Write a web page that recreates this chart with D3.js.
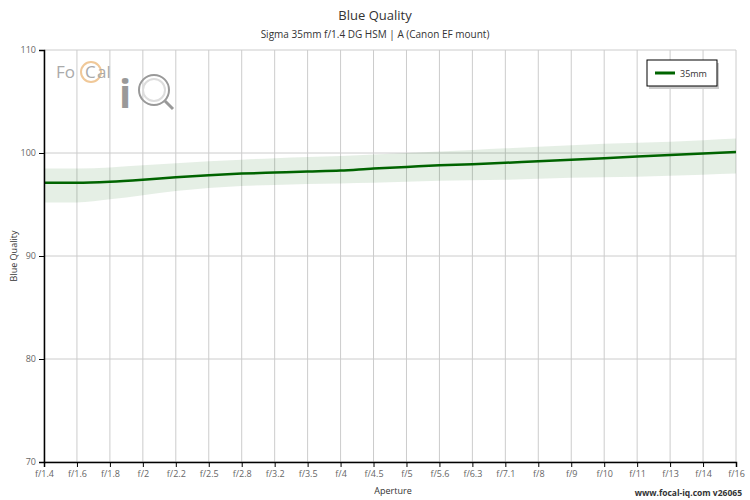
<!DOCTYPE html>
<html><head><meta charset="utf-8">
<script src="https://cdn.jsdelivr.net/npm/d3@7"></script>
<style>body{margin:0;background:#fff}text{font-family:"Open Sans",sans-serif}</style>
</head><body><svg id="chart" width="750" height="500"></svg>
<script>
const apertures = ['f/1.4','f/1.6','f/1.8','f/2','f/2.2','f/2.5','f/2.8','f/3.2','f/3.5','f/4','f/4.5','f/5','f/5.6','f/6.3','f/7.1','f/8','f/9','f/10','f/11','f/13','f/14','f/16']
const quality = [97.1,97.1,97.2,97.4,97.65,97.85,98.0,98.1,98.2,98.3,98.5,98.65,98.8,98.9,99.05,99.2,99.35,99.5,99.65,99.8,99.95,100.1]
const upper = [98.5,98.5,98.6,98.8,99.0,99.2,99.35,99.5,99.6,99.7,99.85,100.0,100.15,100.3,100.45,100.6,100.75,100.9,101.0,101.1,101.25,101.4]
const lower = [95.2,95.2,95.5,95.9,96.3,96.6,96.8,96.9,97.0,97.05,97.1,97.2,97.3,97.35,97.4,97.5,97.6,97.65,97.7,97.8,97.9,98.0]
const yTicks = [70,80,90,100,110]

let svg = d3.select('#chart')
let plotLeft = 44, plotRight = 736, plotTop = 50, plotBottom = 462

let x = d3.scalePoint().domain(apertures).range([plotLeft, plotRight])
let y = d3.scaleLinear().domain([70, 110]).range([plotBottom, plotTop])

// grid
svg.append('g').selectAll('line').data(apertures).enter().append('line')
    .attr('x1', d => x(d)).attr('x2', d => x(d)).attr('y1', plotTop).attr('y2', plotBottom)
    .attr('stroke', '#ccc')
svg.append('g').selectAll('line').data(yTicks).enter().append('line')
    .attr('x1', plotLeft).attr('x2', plotRight).attr('y1', d => y(d)).attr('y2', d => y(d))
    .attr('stroke', '#ccc')

// logo
let logo = svg.append('g')
logo.append('text').attr('x', 56).attr('y', 78).text('Fo').attr('font-size', 17).attr('fill', '#aaa')
logo.append('circle').attr('cx', 91).attr('cy', 72).attr('r', 10).attr('fill', 'none').attr('stroke', '#f0c898').attr('stroke-width', 2)
logo.append('text').attr('x', 85).attr('y', 78).text('C').attr('font-size', 17).attr('fill', '#aaa')
logo.append('text').attr('x', 97).attr('y', 78).text('al').attr('font-size', 17).attr('fill', '#aaa')
logo.append('text').attr('x', 119).attr('y', 108).text('i').attr('font-size', 40).attr('font-weight', 'bold').attr('fill', '#999')
logo.append('circle').attr('cx', 154).attr('cy', 90).attr('r', 15).attr('fill', 'none').attr('stroke', '#999').attr('stroke-width', 2)
logo.append('circle').attr('cx', 154).attr('cy', 90).attr('r', 11).attr('fill', 'none').attr('stroke', '#ddd').attr('stroke-width', 2)
logo.append('line').attr('x1', 165).attr('y1', 101).attr('x2', 173).attr('y2', 109).attr('stroke', '#999').attr('stroke-width', 3)

// band
svg.append('path').datum(apertures)
    .attr('d', d3.area().x(d => x(d)).y0((d, i) => y(lower[i])).y1((d, i) => y(upper[i])).curve(d3.curveMonotoneX))
    .attr('fill', '#006400').attr('fill-opacity', 0.1)

svg.append('path').datum(quality)
    .attr('d', d3.line().x((d, i) => x(apertures[i])).y(d => y(d)).curve(d3.curveMonotoneX))
    .attr('fill', 'none').attr('stroke', '#006400').attr('stroke-width', 2.5)

// axes
let xAxis = svg.append('g').attr('transform', 'translate(0,' + plotBottom + ')')
    .call(d3.axisBottom(x).tickSize(5).tickPadding(4))
xAxis.selectAll('text').attr('font-size', 9).attr('fill', '#666')
xAxis.select('.domain').attr('stroke', '#000').attr('stroke-width', 1.5)
let yAxis = svg.append('g').attr('transform', 'translate(' + plotLeft + ',0)')
    .call(d3.axisLeft(y).tickValues(yTicks).tickSize(5).tickPadding(3))
yAxis.selectAll('text').attr('font-size', 9).attr('fill', '#666')
yAxis.select('.domain').attr('stroke', '#000').attr('stroke-width', 1.5)

// titles
svg.append('text').attr('x', 375).attr('y', 20).attr('text-anchor', 'middle').attr('font-size', 13).attr('fill', '#333').text('Blue Quality')
svg.append('text').attr('x', 375).attr('y', 38).attr('text-anchor', 'middle').attr('font-size', 10).attr('fill', '#333').text('Sigma 35mm f/1.4 DG HSM | A (Canon EF mount)')
svg.append('text').attr('x', 393).attr('y', 494).attr('text-anchor', 'middle').attr('font-size', 9).attr('fill', '#333').text('Aperture')
svg.append('text').attr('transform', 'translate(17,256) rotate(-90)').attr('text-anchor', 'middle').attr('font-size', 9).attr('fill', '#333').text('Blue Quality')
svg.append('text').attr('x', 742).attr('y', 496).attr('text-anchor', 'end').attr('font-size', 8.5).attr('font-weight', 'bold').attr('fill', '#333').text('www.focal-iq.com  v26065')

// legend
svg.append('rect').attr('x', 649).attr('y', 63).attr('width', 70).attr('height', 26).attr('fill', '#ccc')
svg.append('rect').attr('x', 647).attr('y', 60).attr('width', 70).attr('height', 26).attr('fill', '#fff').attr('stroke', '#000')
svg.append('line').attr('x1', 655).attr('x2', 675).attr('y1', 73).attr('y2', 73).attr('stroke', '#006400').attr('stroke-width', 3)
svg.append('text').attr('x', 680).attr('y', 77).attr('font-size', 9).attr('fill', '#333').text('35mm')
</script></body></html>
